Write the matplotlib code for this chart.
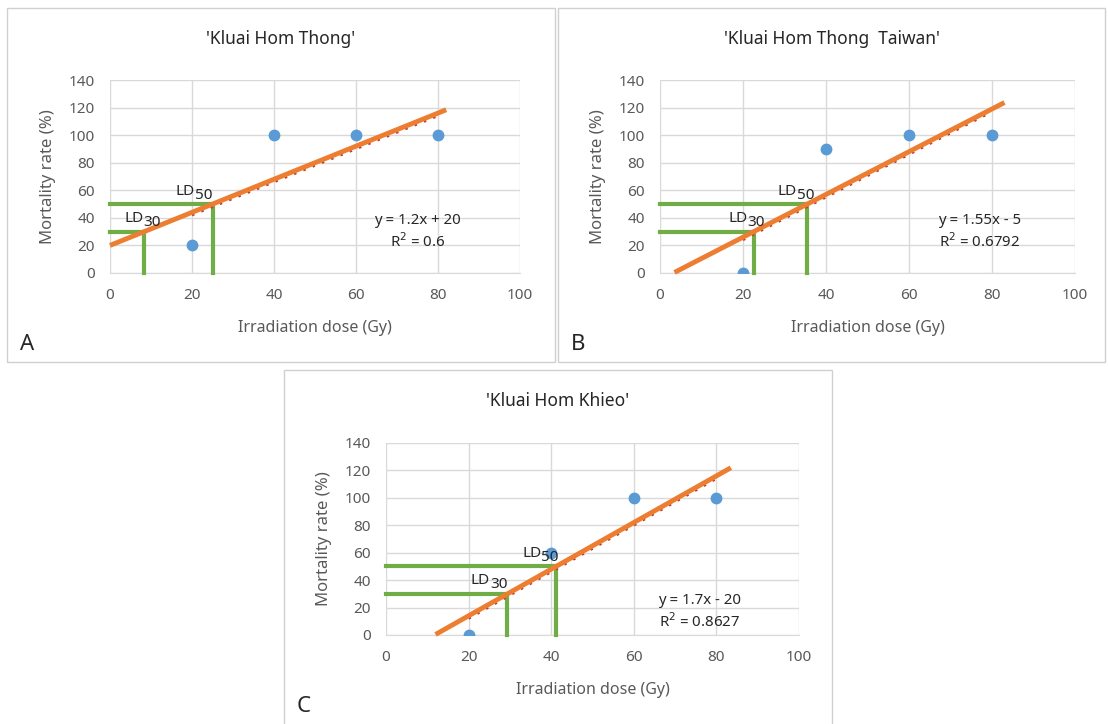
import numpy as np
import matplotlib
matplotlib.use("Agg")
import matplotlib.pyplot as plt
from matplotlib.patches import Rectangle
import matplotlib.transforms as mtransforms

plt.rcParams['font.family'] = ['Noto Sans', 'DejaVu Sans']

# data
titles = ["'Kluai Hom Thong'", "'Kluai Hom Thong  Taiwan'", "'Kluai Hom Khieo'"]
letters = ["A", "B", "C"]
dose = [20, 40, 60, 80]
mort_a = [20, 100, 100, 100]
mort_b = [0, 90, 100, 100]
mort_c = [0, 60, 100, 100]
slopes = [1.2, 1.55, 1.7]
intercepts = [20, -5, -20]
r2_labels = ["0.6", "0.6792", "0.8627"]
eq_labels = ["y = 1.2x + 20", "y = 1.55x - 5", "y = 1.7x - 20"]
# hand-drawn fit line extents (Gy)
fit_start = [0, 3.5, 12]
fit_end = [82, 83, 83.5]
ld_levels = [30, 50]
x_ticks = [0, 20, 40, 60, 80, 100]
y_ticks = [0, 20, 40, 60, 80, 100, 120, 140]

W, H = 1108, 724

def rect(l, t, r, b):
    return [l / W, 1 - b / H, (r - l) / W, (b - t) / H]

# layout (pixels)
frames = [(7, 8, 555, 362), (558, 8, 1105, 362), (284, 370, 832, 730)]
axes_px = [(110, 80, 520, 273), (660, 80, 1075, 273), (386, 443, 799, 635)]
letter_y = [344, 344, 706]
eq_pos = [(75, 30), (77, 30), (76, 17)]
# horizontal shift (points) of LD labels relative to the corner, per level
ld_dx = [[12, 0], [8, 5], [0, 2]]

BLUE = '#5B9BD5'
ORANGE = '#ED7D31'
GREEN = '#70AD47'
GREY = '#595959'
INK = '#262626'

fig = plt.figure(figsize=(W / 100, H / 100), dpi=100)

mort_all = [mort_a, mort_b, mort_c]
for i in range(3):
    fl, ft, fr, fb = frames[i]
    fig.patches.append(Rectangle((fl / W, 1 - fb / H), (fr - fl) / W, (fb - ft) / H,
                                 transform=fig.transFigure, fill=False,
                                 edgecolor='#D0D0D0', linewidth=1.0))
    cx = (fl + fr) / 2 / W
    fig.text(cx, 1 - (ft + 31) / H, titles[i], ha='center', va='center',
             fontsize=12.5, color=INK)
    fig.text((fl + 13) / W, 1 - letter_y[i] / H, letters[i],
             ha='left', va='center', fontsize=16, color=INK)

    ax = fig.add_axes(rect(*axes_px[i]))
    ax.set_xlim(0, 100)
    ax.set_ylim(0, 140)
    ax.set_xticks(x_ticks)
    ax.set_yticks(y_ticks)
    ax.grid(True, color='#D9D9D9', linewidth=1.0)
    ax.set_axisbelow(True)
    for s in ['top', 'right', 'left']:
        ax.spines[s].set_visible(False)
    ax.spines['bottom'].set_color('#D9D9D9')
    ax.tick_params(axis='x', length=0, labelsize=11, labelcolor=GREY, pad=11)
    ax.tick_params(axis='y', length=0, labelsize=11, labelcolor=GREY, pad=11)
    ax.set_xlabel('Irradiation dose (Gy)', fontsize=11.5, color=GREY, labelpad=12)
    ax.set_ylabel('Mortality rate (%)', fontsize=12, color=GREY, labelpad=9)

    m, c = slopes[i], intercepts[i]

    # LD lines and labels
    for k, lv in enumerate(ld_levels):
        xd = (lv - c) / m
        ax.plot([0, xd, xd], [lv, lv, 0], color=GREEN, linewidth=3,
                solid_joinstyle='miter', zorder=3, clip_on=False)
        sub = ax.annotate(str(lv), xy=(xd, lv), xytext=(ld_dx[i][k], 1),
                          textcoords='offset points', ha='right', va='bottom',
                          fontsize=11, color=INK, zorder=6)
        ax.annotate('LD', xy=(0, 0), xycoords=sub, xytext=(0, 3),
                    textcoords='offset points', ha='right', va='bottom',
                    fontsize=11, color=INK, zorder=6)

    # dotted Excel trendline
    xs = np.array([dose[0], dose[-1]], dtype=float)
    off = mtransforms.offset_copy(ax.transData, fig=fig, x=0, y=-2, units='points')
    ax.plot(xs, m * xs + c, color='#C0392B', linestyle=(0, (1, 3)), linewidth=1.8,
            transform=off, zorder=3)

    # thick drawn line
    xl = np.array([fit_start[i], fit_end[i]])
    ax.plot(xl, m * xl + c, color=ORANGE, linewidth=3.5, solid_capstyle='butt',
            zorder=4, clip_on=False)

    ax.plot(dose, mort_all[i], 'o', color=BLUE, markersize=7.5, zorder=5)

    ex, ey = eq_pos[i]
    ax.text(ex, ey, eq_labels[i] + '\nR$^2$ = ' + r2_labels[i], ha='center',
            va='center', fontsize=10.8, color=INK, linespacing=1.3, zorder=6)

fig.savefig('out.png', dpi=100)
